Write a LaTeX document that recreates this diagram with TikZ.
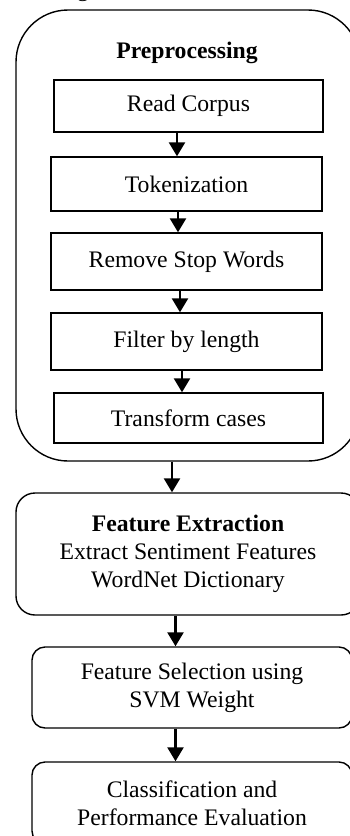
\documentclass[tikz,border=0pt]{standalone}
\usepackage{fontspec}
\setmainfont{Liberation Serif}
\usetikzlibrary{arrows.meta}

\begin{document}
\begin{tikzpicture}[x=1pt,y=-1pt,
  every node/.style={font=\fontsize{23.7pt}{28pt}\selectfont},
  stepbox/.style={draw,line width=1.4pt,inner sep=0pt,align=center},
  roundbox/.style={stepbox,rounded corners=#1},
  arr/.style={line width=2.5pt,-{Triangle[length=14pt,width=16pt]}}]
\useasboundingbox (0,0) rectangle (350,836);
\clip (0,0) rectangle (350,836);

% descender of the caption line above the figure
\node[anchor=base,inner sep=0pt] (capg) at (83,-3.5) {g};

% preprocessing stage
\node[roundbox=52pt,minimum width=344pt,minimum height=451pt] (outer) at (188,235.5) {};
\node[anchor=base,inner sep=0pt,font=\fontsize{23.7pt}{28pt}\selectfont\bfseries] (pre) at (187,58) {Preprocessing};
\node[stepbox,minimum width=269pt,minimum height=52pt] (read) at (188.5,106) {Read Corpus};
\node[stepbox,minimum width=271pt,minimum height=54pt] (tok) at (186.5,184) {Tokenization};
\node[stepbox,minimum width=271pt,minimum height=57pt] (rsw) at (186.5,261.5) {Remove Stop Words};
\node[stepbox,minimum width=271pt,minimum height=57pt] (flt) at (186.5,341.5) {Filter by length};
\node[stepbox,minimum width=269pt,minimum height=50pt] (trc) at (188.5,418) {Transform cases};

% later stages
\node[roundbox=19pt,minimum width=344pt,minimum height=122pt] (fe) at (188,554)
  {\textbf{Feature Extraction}\\Extract Sentiment Features\\WordNet Dictionary};
\node[roundbox=13pt,minimum width=320pt,minimum height=81pt] (fs) at (192,687.5)
  {Feature Selection using\\SVM Weight};
\node[roundbox=13pt,minimum width=320pt,minimum height=82pt] (cls) at (192,803)
  {Classification and\\Performance Evaluation};

% connectors
\draw[arr] ([xshift=-11.5pt]read.south) -- ([xshift=-9.5pt]tok.north);
\draw[arr] ([xshift=-8.5pt]tok.south) -- ([xshift=-8.5pt]rsw.north);
\draw[arr] ([xshift=-6.5pt]rsw.south) -- ([xshift=-6.5pt]flt.north);
\draw[arr] ([xshift=-4.5pt]flt.south) -- ([xshift=-6.5pt]trc.north);
\draw[arr] ([xshift=-16pt]outer.south) -- ([xshift=-16pt]fe.north);
\draw[arr] ([xshift=-12.5pt]fe.south) -- ([xshift=-16.5pt]fs.north);
\draw[arr] ([xshift=-16.5pt]fs.south) -- ([xshift=-16.5pt]cls.north);
\end{tikzpicture}
\end{document}
